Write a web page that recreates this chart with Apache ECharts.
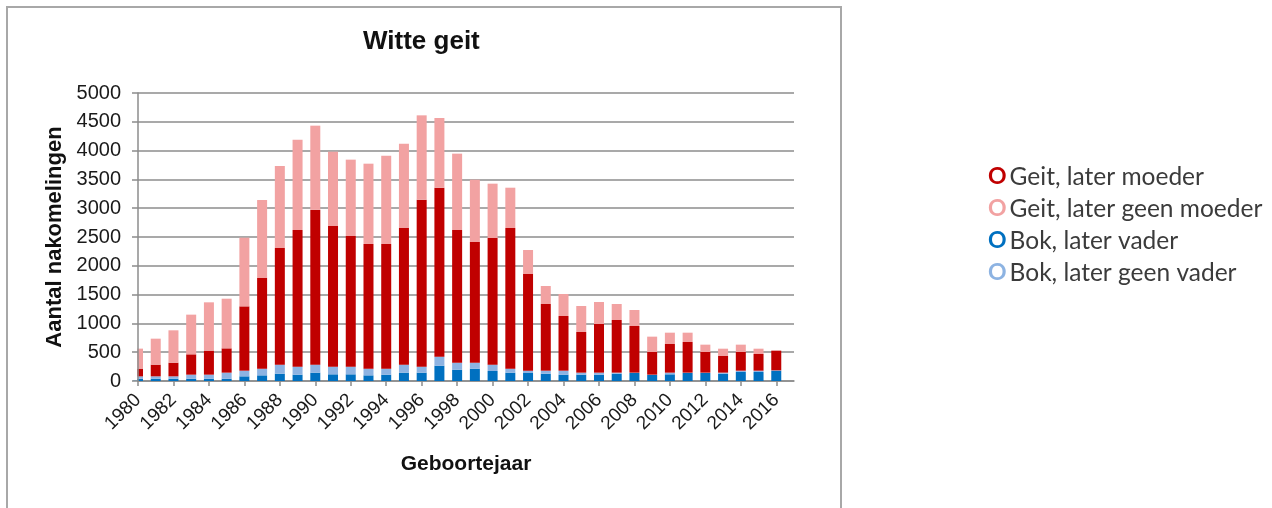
<!DOCTYPE html>
<html>
<head>
<meta charset="utf-8">
<title>Witte geit</title>
<script src="https://cdn.jsdelivr.net/npm/echarts@6/dist/echarts.min.js"></script>
<style>
  html, body { margin: 0; padding: 0; background: #fff; }
  #chart { width: 1272px; height: 508px; }
</style>
</head>
<body>
<div id="chart"></div>
<script>
// jaren (2017 is een lege categorie, zoals in het origineel)
var years = [];
for (var y = 1980; y <= 2017; y++) years.push(String(y));

// waarden per geboortejaar, 1980 t/m 2016
var bokVader = [40, 40, 40, 40, 40, 40, 81, 98, 127, 110, 145, 116, 116, 98, 110, 145, 145, 266, 197,
  214, 174, 145, 139, 127, 110, 110, 110, 127, 139, 104, 116, 139, 139, 127, 156, 156, 179];
var bokGeenVader = [40, 41, 41, 70, 70, 105, 98, 116, 157, 139, 139, 133, 133, 116, 104, 139, 104, 156, 121,
  104, 110, 69, 40, 52, 69, 35, 35, 18, 6, 6, 29, 6, 6, 18, 23, 23, 6];
var geitMoeder = [135, 203, 237, 353, 417, 422, 1117, 1574, 2025, 2372, 2691, 2442, 2268, 2165, 2165, 2372, 2899, 2934, 2303,
  2095, 2199, 2442, 1679, 1158, 949, 706, 845, 914, 810, 393, 497, 532, 358, 289, 324, 290, 342];
var geitGeenMoeder = [347, 451, 562, 689, 839, 862, 1192, 1354, 1424, 1569, 1458, 1290, 1326, 1394, 1533, 1464, 1464, 1210, 1326,
  1082, 943, 700, 416, 312, 382, 451, 382, 278, 278, 267, 197, 162, 128, 127, 128, 92, 0];

var names = ['Geit, later moeder', 'Geit, later geen moeder', 'Bok, later vader', 'Bok, later geen vader'];
var colors = ['#C00000', '#F2A2A2', '#0070C0', '#8DB3E2'];
var keys = ['gm', 'gg', 'bv', 'bg'];

var chart = echarts.init(document.getElementById('chart'));

var rich = {};
keys.forEach(function (k, i) {
  rich[k] = { color: colors[i], fontWeight: 'bold', fontSize: 23, fontFamily: 'Lato', lineHeight: 32, padding: [0, 3, 0, 0] };
});
rich.t = { color: '#3b3b3b', fontSize: 24.5, fontFamily: 'Lato', lineHeight: 32 };

// elke tweede jaar een label en streepje, 2017 niet
function everyOther(index) {
  return index % 2 === 0 && index < years.length - 1;
}

function bar(name, data, color) {
  return {
    name: name,
    type: 'bar',
    stack: 'totaal',
    barWidth: 10,
    data: data,
    itemStyle: { color: color },
    emphasis: { disabled: true }
  };
}

var gridLeft = 138, gridTop = 93, gridBottom = 127;

chart.setOption({
  animation: false,
  textStyle: { fontFamily: 'Liberation Sans, Arial, sans-serif' },
  title: {
    text: 'Witte geit',
    left: 363,
    top: 29,
    padding: 0,
    textStyle: { fontSize: 26, fontWeight: 'bold', color: '#111' }
  },
  graphic: [{
    type: 'rect',
    shape: { x: 7, y: 7, width: 834, height: 530 },
    style: { fill: 'none', stroke: '#a8a8a8', lineWidth: 2 },
    silent: true
  }, {
    // de eerste balk valt half buiten het plotvlak, zoals in Excel
    type: 'rect',
    shape: { x: gridLeft - 12, y: gridTop - 2, width: 11.3, height: 508 - gridBottom - gridTop + 1.6 },
    style: { fill: '#fff' },
    z: 2.5,
    silent: true
  }],
  legend: {
    orient: 'vertical',
    left: 983,
    top: 161,
    padding: 0,
    itemGap: 0,
    itemWidth: 0,
    itemHeight: 0,
    selectedMode: false,
    data: names,
    formatter: function (name) {
      return '{' + keys[names.indexOf(name)] + '|O}{t|' + name + '}';
    },
    textStyle: { rich: rich, lineHeight: 32 }
  },
  grid: { left: gridLeft, right: 478, top: gridTop, bottom: gridBottom, containLabel: false },
  xAxis: {
    type: 'category',
    data: years,
    boundaryGap: false,
    name: 'Geboortejaar',
    nameLocation: 'middle',
    nameGap: 73,
    nameTextStyle: { fontSize: 21, fontWeight: 'bold', color: '#111' },
    axisLine: { lineStyle: { color: '#8c8c8c', width: 1.5 } },
    axisTick: { interval: everyOther, length: 5, lineStyle: { color: '#8c8c8c', width: 1.5 } },
    axisLabel: { interval: everyOther, rotate: 45, fontSize: 19, color: '#1a1a1a', margin: 16 }
  },
  yAxis: [{
    type: 'value',
    min: 0,
    max: 5000,
    interval: 500,
    z: 3,
    name: 'Aantal nakomelingen',
    nameLocation: 'middle',
    nameGap: 72,
    nameTextStyle: { fontSize: 22, fontWeight: 'bold', color: '#111' },
    axisLine: { show: true, lineStyle: { color: '#8c8c8c', width: 1.5 } },
    axisTick: { show: true, length: 6, lineStyle: { color: '#8c8c8c', width: 1.5 } },
    axisLabel: {
      fontSize: 20, color: '#1a1a1a', margin: 17,
      formatter: function (v) { return String(v); }
    },
    splitLine: { show: false }
  }, {
    // alleen de rasterlijnen, achter de balken
    type: 'value',
    position: 'left',
    min: 0,
    max: 5000,
    interval: 500,
    z: 0,
    axisLine: { show: false },
    axisTick: { show: false },
    axisLabel: { show: false },
    splitLine: { lineStyle: { color: '#8c8c8c', width: 1.5 } }
  }],
  series: [
    bar(names[2], bokVader, colors[2]),
    bar(names[3], bokGeenVader, colors[3]),
    bar(names[0], geitMoeder, colors[0]),
    bar(names[1], geitGeenMoeder, colors[1])
  ]
});
</script>
</body>
</html>
